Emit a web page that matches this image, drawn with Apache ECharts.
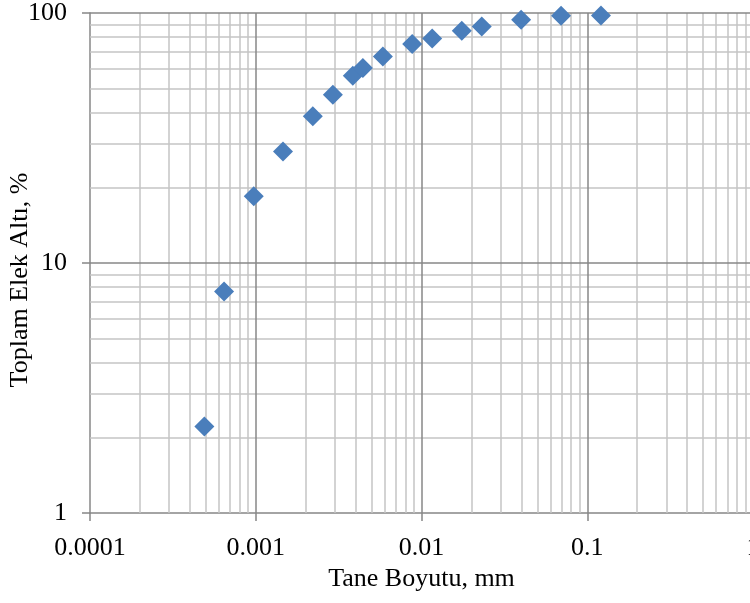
<!DOCTYPE html>
<html>
<head>
<meta charset="utf-8">
<script src="https://cdn.jsdelivr.net/npm/echarts@6/dist/echarts.min.js"></script>
<style>
html,body{margin:0;padding:0;background:#fff;}
#chart{width:750px;height:603px;}
</style>
</head>
<body>
<div id="chart"></div>
<script>
// Data
const grainSize = [0.00049, 0.000644, 0.000973, 0.00146, 0.00221, 0.00292, 0.00385, 0.00443, 0.00585, 0.00879, 0.0116, 0.0175, 0.0231, 0.0399, 0.0695, 0.121];
const passingPct = [2.22, 7.70, 18.5, 27.9, 38.6, 47.1, 56.1, 60.3, 67.0, 75.2, 79.1, 84.9, 88.4, 94.0, 97.5, 97.8];

const xTickLabels = ['0.0001', '0.001', '0.01', '0.1', '1'];
const yTickLabels = ['1', '10', '100'];
const xDecades = [0.0001, 0.001, 0.01, 0.1, 1];
const yDecades = [1, 10, 100];
const minorMultipliers = [2, 3, 4, 5, 6, 7, 8, 9];

const xAxisName = 'Tane Boyutu, mm';
const yAxisName = 'Toplam Elek Altı, %';

const points = grainSize.map((x, i) => [x, passingPct[i]]);

// grid line positions (values, not pixels)
const minorX = [];
xDecades.slice(0, -1).forEach(d => minorMultipliers.forEach(m => minorX.push(+(d * m).toPrecision(6))));
const minorY = [];
yDecades.slice(0, -1).forEach(d => minorMultipliers.forEach(m => minorY.push(+(d * m).toPrecision(6))));

const FONT = '"Liberation Serif", "Times New Roman", serif';
const MAJOR = '#878787';
const MINOR = '#c4c4c4';

function lineData(xs, ys) {
  return xs.map(v => ({ xAxis: v })).concat(ys.map(v => ({ yAxis: v })));
}

const chart = echarts.init(document.getElementById('chart'), null, { renderer: 'canvas' });
chart.setOption({
  backgroundColor: '#ffffff',
  animation: false,
  grid: { left: 90, right: -3, top: 13, bottom: 90, containLabel: false, outerBoundsMode: 'none' },
  xAxis: {
    type: 'log', logBase: 10, min: 0.0001, max: 1,
    name: xAxisName, nameLocation: 'middle', nameGap: 53, nameMoveOverlap: false,
    nameTextStyle: { fontFamily: FONT, fontSize: 26, color: '#000' },
    axisLine: { show: true, lineStyle: { color: MAJOR, width: 1.5 } },
    axisTick: { show: true, length: 8, inside: false, lineStyle: { color: MAJOR, width: 1.5 } },
    axisLabel: {
      fontFamily: FONT, fontSize: 26, color: '#000', margin: 22,
      formatter: v => xTickLabels[Math.round(Math.log10(v)) + 4]
    },
    splitLine: { show: false }
  },
  yAxis: {
    type: 'log', logBase: 10, min: 1, max: 100,
    name: yAxisName, nameLocation: 'middle', nameGap: 57, nameRotate: 90, nameMoveOverlap: false,
    nameTextStyle: { fontFamily: FONT, fontSize: 26, color: '#000', padding: [0, 34, 0, 0] },
    axisLine: { show: true, lineStyle: { color: MAJOR, width: 1.5 } },
    axisTick: { show: true, length: 8, inside: false, lineStyle: { color: MAJOR, width: 1.5 } },
    axisLabel: {
      fontFamily: FONT, fontSize: 26, color: '#000', margin: 23,
      formatter: v => yTickLabels[Math.round(Math.log10(v))]
    },
    splitLine: { show: false }
  },
  series: [
    {
      type: 'scatter', data: [], z: 1, silent: true,
      markLine: {
        silent: true, symbol: ['none', 'none'], label: { show: false }, precision: 10,
        lineStyle: { color: MINOR, width: 1.5, type: 'solid' },
        emphasis: { disabled: true },
        data: lineData(minorX, minorY)
      }
    },
    {
      type: 'scatter', data: [], z: 2, silent: true,
      markLine: {
        silent: true, symbol: ['none', 'none'], label: { show: false }, precision: 10,
        lineStyle: { color: MAJOR, width: 1.5, type: 'solid' },
        emphasis: { disabled: true },
        data: lineData(xDecades.slice(1), yDecades.slice(1))
      }
    },
    {
      type: 'scatter', z: 5,
      symbol: 'diamond', symbolSize: 20,
      itemStyle: { color: '#4A7EBB', opacity: 1 },
      data: points
    }
  ]
});
</script>
</body>
</html>
